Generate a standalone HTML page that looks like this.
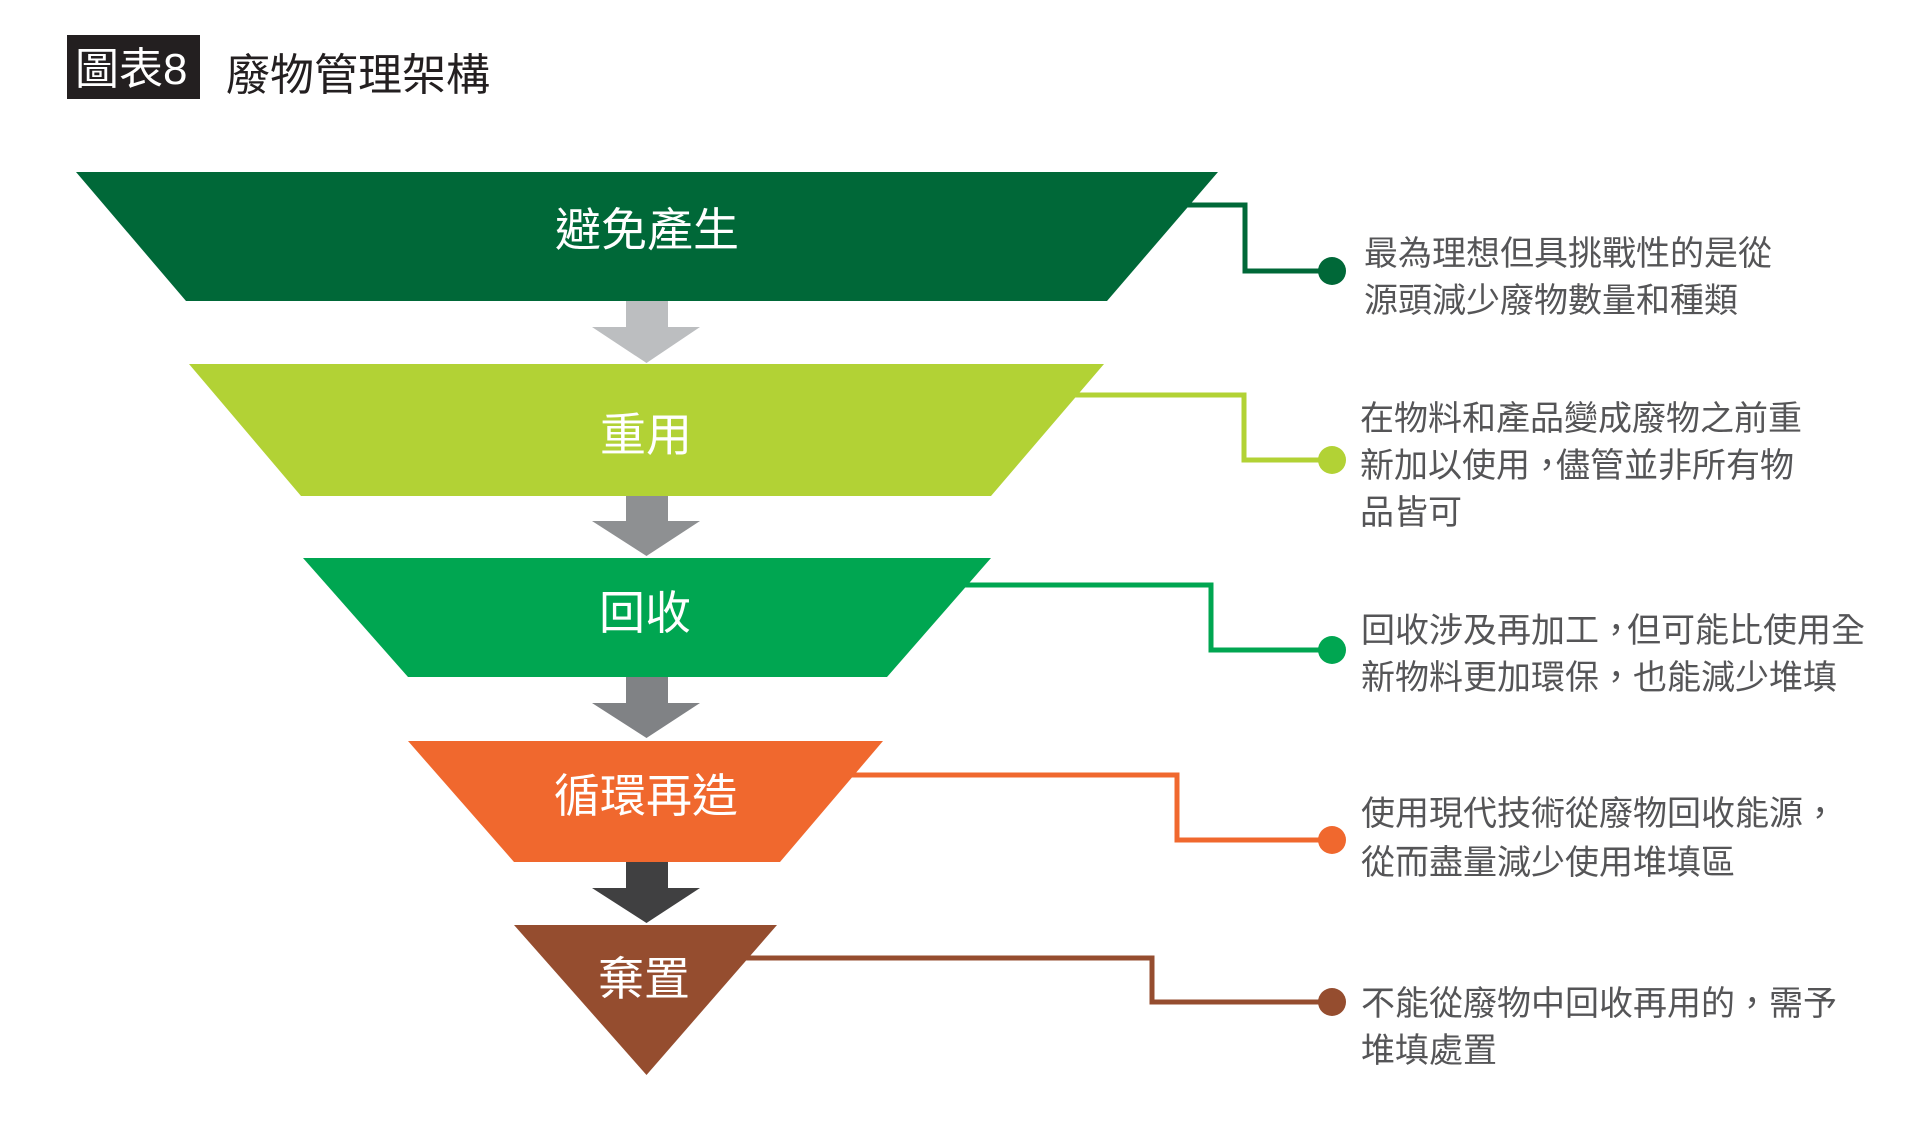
<!DOCTYPE html>
<html>
<head>
<meta charset="utf-8">
<style>
  html, body { margin: 0; padding: 0; background: #ffffff; }
  body { width: 1920px; height: 1134px; overflow: hidden; }
  svg { display: block; }
  text { font-family: "Liberation Sans", "Noto Sans CJK TC", "Noto Sans CJK JP", sans-serif; }
  .lbl { fill: #ffffff; font-size: 46px; text-anchor: middle; }
  .desc { fill: #555557; font-size: 34px; }
</style>
</head>
<body>
<svg width="1920" height="1134" viewBox="0 0 1920 1134" xmlns="http://www.w3.org/2000/svg">
  <!-- Title -->
  <rect x="67" y="35" width="133" height="64" fill="#231f20"/>
  <text x="75" y="84" fill="#ffffff" font-size="44">圖表8</text>
  <text x="226" y="90" fill="#231f20" font-size="44">廢物管理架構</text>

  <!-- Connectors -->
  <g fill="none" stroke-width="5" stroke-linejoin="miter">
    <polyline points="1170,205 1245,205 1245,271 1332,271" stroke="#006838"/>
    <polyline points="1060,395 1244,395 1244,460 1332,460" stroke="#b2d235"/>
    <polyline points="950,585 1211,585 1211,650 1332,650" stroke="#00a651"/>
    <polyline points="840,775 1177,775 1177,840 1332,840" stroke="#f0682e"/>
    <polyline points="735,958 1152,958 1152,1002 1332,1002" stroke="#954d2f"/>
  </g>
  <circle cx="1332" cy="271" r="14" fill="#006838"/>
  <circle cx="1332" cy="460" r="14" fill="#b2d235"/>
  <circle cx="1332" cy="650" r="14" fill="#00a651"/>
  <circle cx="1332" cy="840" r="14" fill="#f0682e"/>
  <circle cx="1332" cy="1002" r="14" fill="#954d2f"/>

  <!-- Funnel shapes -->
  <polygon points="76,172 1218,172 1107,301 186,301" fill="#006838"/>
  <polygon points="189,364 1104,364 991,496 301,496" fill="#b2d235"/>
  <polygon points="303,558 991,558 887,677 408,677" fill="#00a651"/>
  <polygon points="408,741 883,741 780,862 514,862" fill="#f0682e"/>
  <polygon points="514,925 777,925 646.5,1075" fill="#954d2f"/>

  <!-- Arrows -->
  <polygon points="626,301 668,301 668,327 700,327 646.5,363 592,327 626,327" fill="#bcbec0"/>
  <polygon points="626,496 668,496 668,521 700,521 646.5,556 592,521 626,521" fill="#8e9092"/>
  <polygon points="626,677 668,677 668,703 700,703 646.5,738 592,703 626,703" fill="#808285"/>
  <polygon points="626,862 668,862 668,888 700,888 646.5,923 592,888 626,888" fill="#404041"/>

  <!-- Labels -->
  <text class="lbl" x="647" y="246">避免產生</text>
  <text class="lbl" x="646" y="451">重用</text>
  <text class="lbl" x="645" y="629">回收</text>
  <text class="lbl" x="646" y="812">循環再造</text>
  <text class="lbl" x="644" y="995">棄置</text>

  <!-- Descriptions -->
  <text class="desc" x="1364" y="265">最為理想但具挑戰性的是從</text>
  <text class="desc" x="1364" y="312">源頭減少廢物數量和種類</text>

  <text class="desc" x="1360" y="430">在物料和產品變成廢物之前重</text>
  <text class="desc" x="1360" y="477">新加以使用<tspan>，</tspan><tspan dx="-8">儘管並非所有物</tspan></text>
  <text class="desc" x="1360" y="524">品皆可</text>

  <text class="desc" x="1361" y="642">回收涉及再加工<tspan>，</tspan><tspan dx="-6">但可能比使用全</tspan></text>
  <text class="desc" x="1361" y="689">新物料更加環保<tspan>，</tspan>也能減少堆填</text>

  <text class="desc" x="1361" y="825">使用現代技術從廢物回收能源<tspan>，</tspan></text>
  <text class="desc" x="1361" y="874">從而盡量減少使用堆填區</text>

  <text class="desc" x="1361" y="1015">不能從廢物中回收再用的<tspan>，</tspan>需予</text>
  <text class="desc" x="1361" y="1062">堆填處置</text>
</svg>
</body>
</html>
